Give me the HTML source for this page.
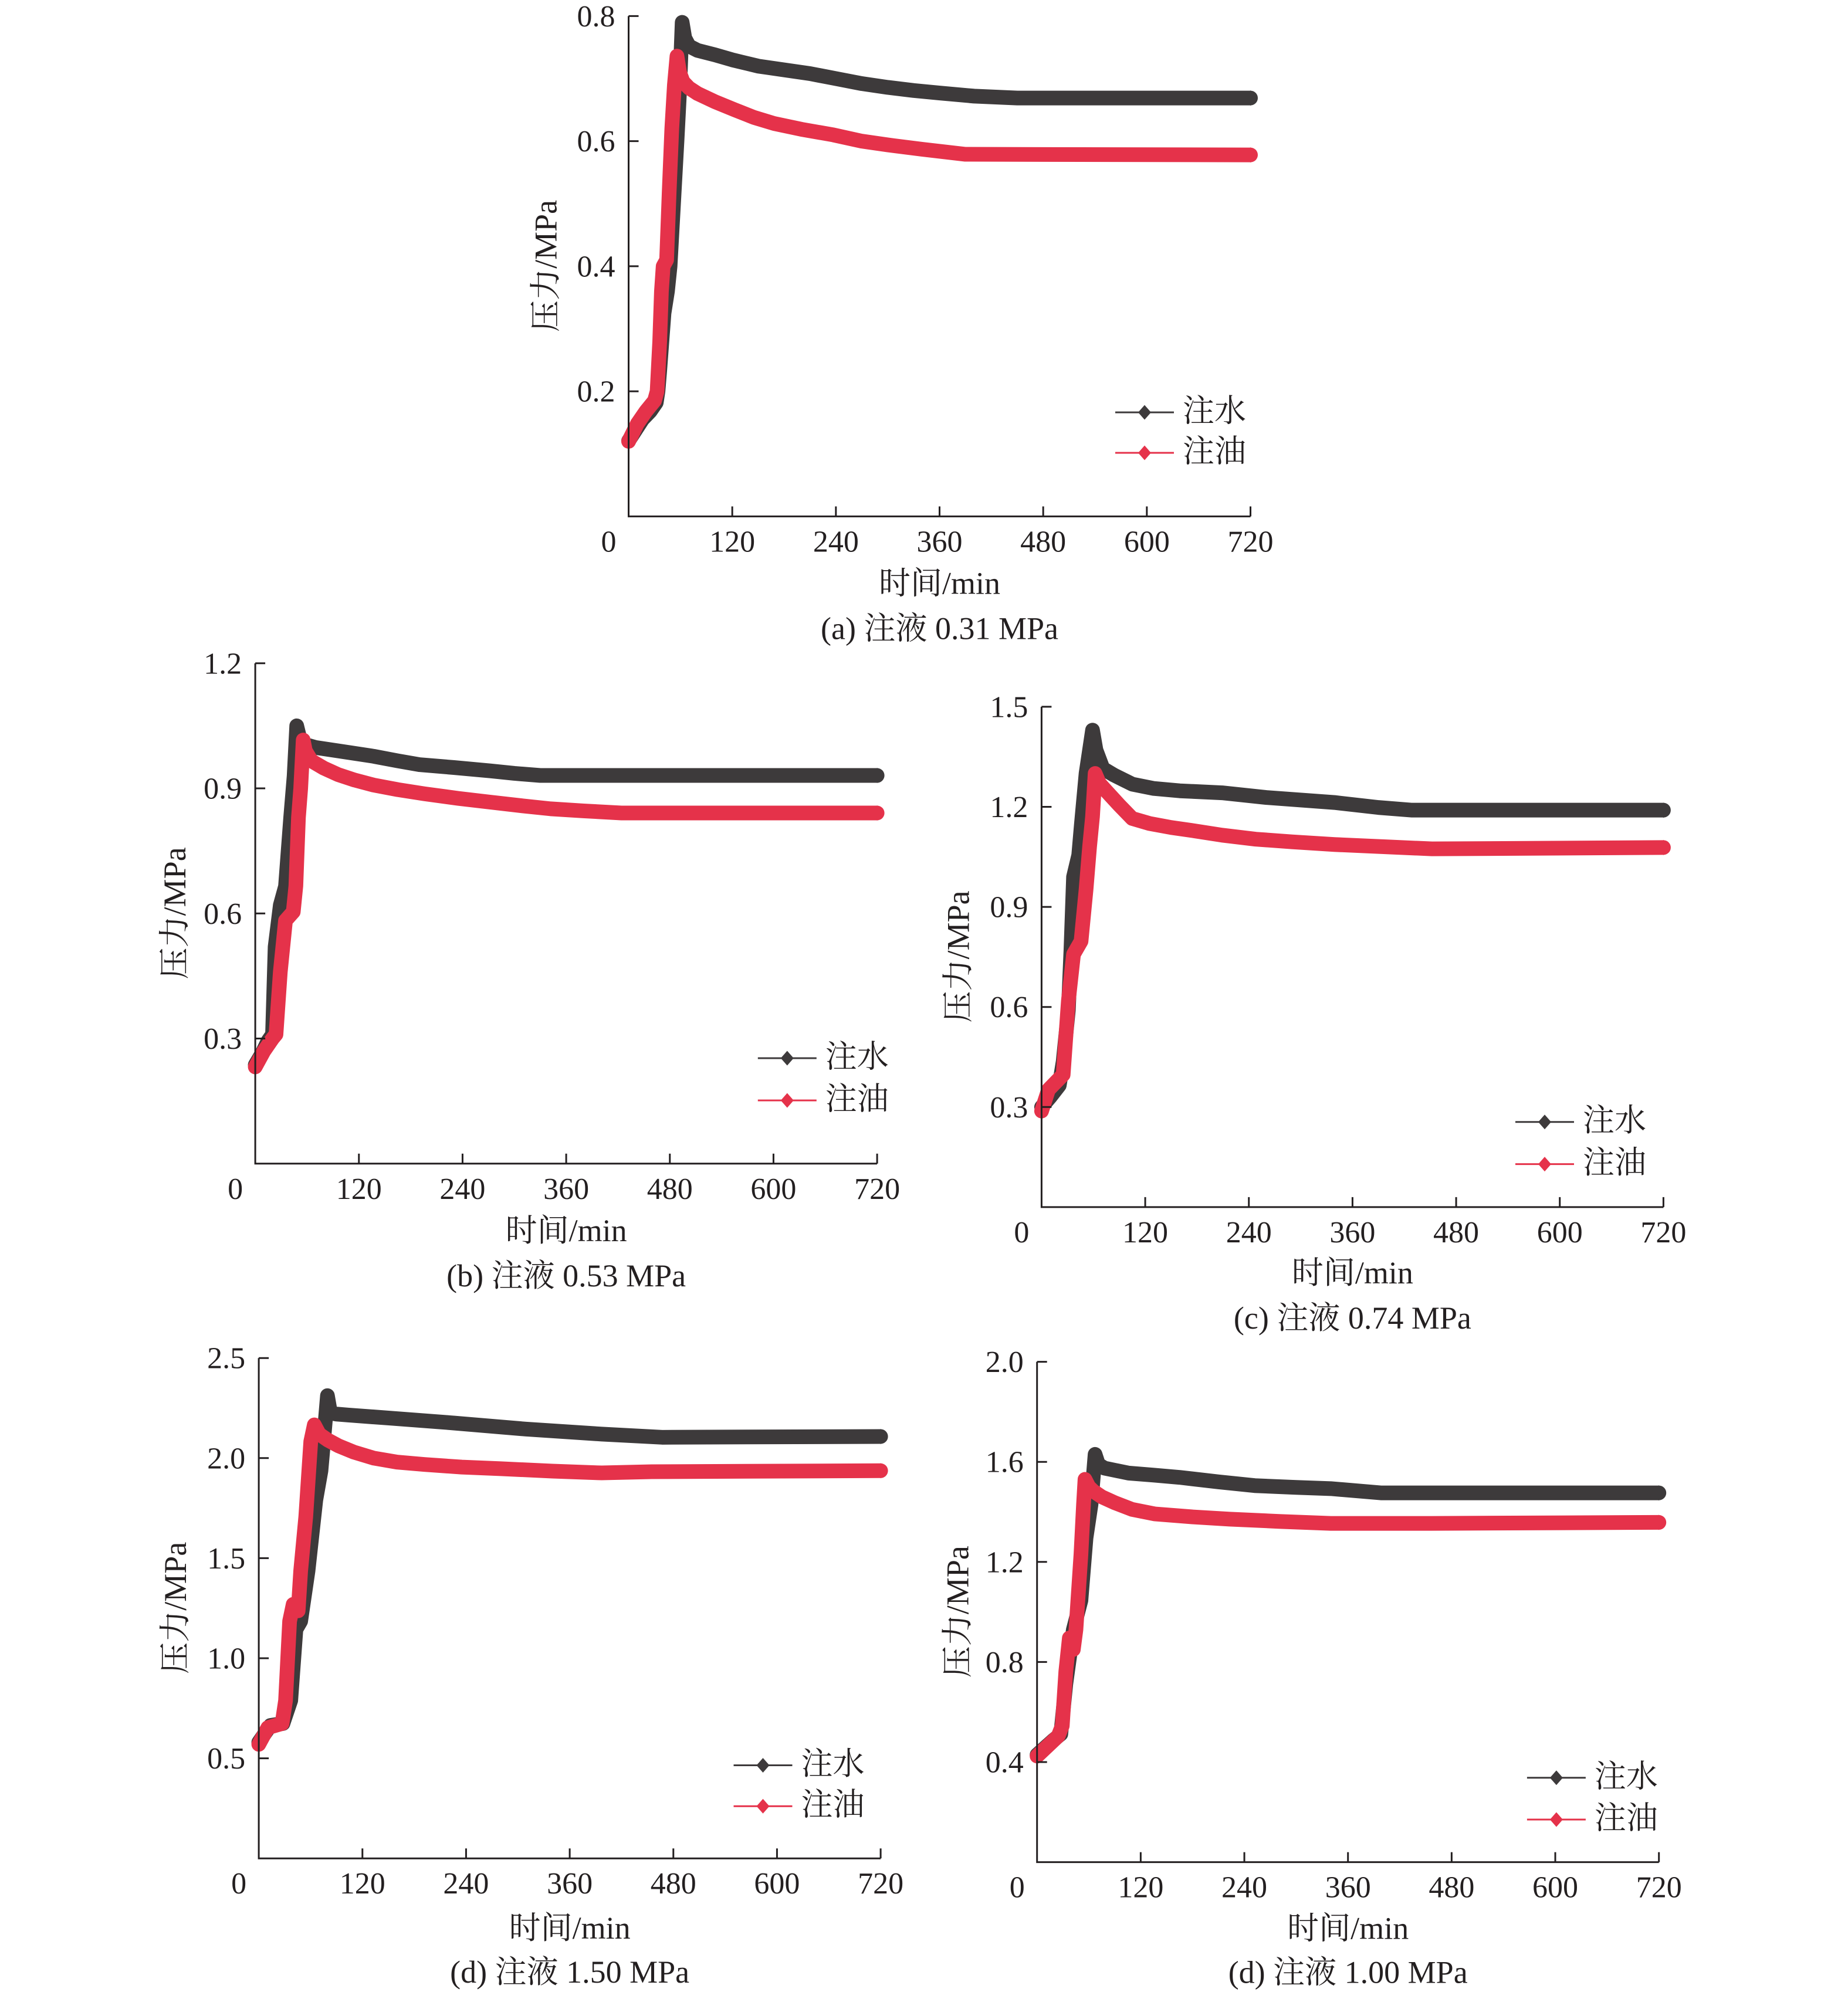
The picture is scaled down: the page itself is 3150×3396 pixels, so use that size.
<!DOCTYPE html>
<html><head><meta charset="utf-8">
<style>
html,body{margin:0;padding:0;background:#fff;}
svg{display:block;}
.ax{fill:none;stroke:#231f20;stroke-width:3;}
.tk{font-family:"Liberation Serif","Noto Serif CJK SC",serif;font-size:52px;fill:#231f20;}
.lb{font-family:"Liberation Serif","Noto Serif CJK SC",serif;font-size:54px;fill:#231f20;}
.sb{fill:none;stroke:#3d3a3b;stroke-width:25;stroke-linejoin:round;stroke-linecap:round;}
.sr{fill:none;stroke:#e5324a;stroke-width:25;stroke-linejoin:round;stroke-linecap:round;}
</style></head>
<body>
<svg width="3150" height="3396" viewBox="0 0 3150 3396" xmlns="http://www.w3.org/2000/svg">
<rect width="3150" height="3396" fill="#fff"/>

<!-- ============ Chart A ============ -->
<g transform="translate(1071.5,880.4)">
  <g transform="scale(1.472222,-1066.25)">
    <polyline class="sb" vector-effect="non-scaling-stroke" points="0,0.121 8,0.138 16,0.155 25,0.168 32,0.182 34,0.20 36,0.233 41,0.325 45,0.36 48,0.40 52,0.50 56,0.60 59,0.68 62,0.79 65,0.765 70,0.752 80,0.745 100,0.738 120,0.73 150,0.72 180,0.714 210,0.708 240,0.70 270,0.692 300,0.686 330,0.681 360,0.677 400,0.672 450,0.669 720,0.669"/>
    <polyline class="sr" vector-effect="non-scaling-stroke" points="0,0.12 10,0.148 20,0.168 30,0.185 33,0.20 36,0.28 38,0.36 40,0.40 44,0.41 47,0.52 50,0.62 53,0.69 56,0.736 59,0.71 63,0.695 70,0.685 80,0.676 100,0.663 123,0.650 145,0.638 169,0.628 200,0.619 237,0.610 270,0.600 300,0.594 340,0.587 390,0.579 720,0.578"/>
  </g>
  <polygon points="1060,-726.3 1072,-713.3 1060,-700.3 1048,-713.3" fill="#3d3a3b"/>
  <polygon points="1060,-629.3 1072,-616.3 1060,-603.3 1048,-616.3" fill="#e5324a"/>
  <path class="ax" d="M0,-853 V0 H1060"/>
  <path class="ax" d="M0,-853 H17 M0,-639.75 H17 M0,-426.5 H17 M0,-213.25 H17 M176.67,0 V-17 M353.33,0 V-17 M530,0 V-17 M706.67,0 V-17 M883.33,0 V-17 M1060,0 V-17"/>
  <g class="tk" text-anchor="end">
    <text x="-23" y="-835.5">0.8</text>
    <text x="-23" y="-622.25">0.6</text>
    <text x="-23" y="-409">0.4</text>
    <text x="-23" y="-195.75">0.2</text>
  </g>
  <g class="tk" text-anchor="middle">
    <text x="-34" y="60">0</text>
    <text x="176.67" y="60">120</text>
    <text x="353.33" y="60">240</text>
    <text x="530" y="60">360</text>
    <text x="706.67" y="60">480</text>
    <text x="883.33" y="60">600</text>
    <text x="1060" y="60">720</text>
  </g>
  <text class="lb" x="530" y="132" text-anchor="middle">时间/min</text>
  <text class="lb" x="530" y="209" text-anchor="middle">(a) 注液 0.31 MPa</text>
  <text class="lb" transform="translate(-142,-427) rotate(-90)" y="19" text-anchor="middle">压力/MPa</text>
  <g transform="translate(829.5,-177.4)">
    <line x1="0" y1="0" x2="100" y2="0" stroke="#3d3a3b" stroke-width="3"/>
    <polygon points="50,-12.5 61,0 50,12.5 39,0" fill="#3d3a3b"/>
    <text class="lb" x="115" y="15.5">注水</text>
  </g>
  <g transform="translate(829.5,-108.4)">
    <line x1="0" y1="0" x2="100" y2="0" stroke="#e5324a" stroke-width="3"/>
    <polygon points="50,-12.5 61,0 50,12.5 39,0" fill="#e5324a"/>
    <text class="lb" x="115" y="15.5">注油</text>
  </g>
</g>

<!-- ============ Chart B ============ -->
<g transform="translate(435.1,1983.8)">
  <g transform="scale(1.472222,-710.833)">
    <polyline class="sb" vector-effect="non-scaling-stroke" points="0,0.237 8,0.265 15,0.295 20,0.31 23,0.52 29,0.62 35,0.665 41,0.83 45,0.93 48,1.05 52,1.016 58,1.005 70,0.998 96,0.99 137,0.977 165,0.966 190,0.957 230,0.95 272,0.942 300,0.936 330,0.931 720,0.931"/>
    <polyline class="sr" vector-effect="non-scaling-stroke" points="0,0.232 10,0.27 20,0.30 24,0.31 29,0.46 35,0.583 44,0.604 47,0.666 50,0.83 52.6,0.90 55.5,1.016 58,0.99 65,0.966 79,0.949 96,0.933 115,0.92 137,0.908 165,0.897 196,0.887 235,0.876 272,0.867 310,0.858 342,0.851 380,0.846 424,0.841 720,0.841"/>
  </g>
  <polygon points="1060,-674.8 1072,-661.8 1060,-648.8 1048,-661.8" fill="#3d3a3b"/>
  <polygon points="1060,-610.8 1072,-597.8 1060,-584.8 1048,-597.8" fill="#e5324a"/>
  <path class="ax" d="M0,-853 V0 H1060"/>
  <path class="ax" d="M0,-853 H17 M0,-639.75 H17 M0,-426.5 H17 M0,-213.25 H17 M176.67,0 V-17 M353.33,0 V-17 M530,0 V-17 M706.67,0 V-17 M883.33,0 V-17 M1060,0 V-17"/>
  <g class="tk" text-anchor="end">
    <text x="-23" y="-835.5">1.2</text>
    <text x="-23" y="-622.25">0.9</text>
    <text x="-23" y="-409">0.6</text>
    <text x="-23" y="-195.75">0.3</text>
  </g>
  <g class="tk" text-anchor="middle">
    <text x="-34" y="60">0</text>
    <text x="176.67" y="60">120</text>
    <text x="353.33" y="60">240</text>
    <text x="530" y="60">360</text>
    <text x="706.67" y="60">480</text>
    <text x="883.33" y="60">600</text>
    <text x="1060" y="60">720</text>
  </g>
  <text class="lb" x="530" y="132" text-anchor="middle">时间/min</text>
  <text class="lb" x="530" y="209" text-anchor="middle">(b) 注液 0.53 MPa</text>
  <text class="lb" transform="translate(-138,-427) rotate(-90)" y="19" text-anchor="middle">压力/MPa</text>
  <g transform="translate(856.7,-179.8)">
    <line x1="0" y1="0" x2="100" y2="0" stroke="#3d3a3b" stroke-width="3"/>
    <polygon points="50,-12.5 61,0 50,12.5 39,0" fill="#3d3a3b"/>
    <text class="lb" x="115" y="15.5">注水</text>
  </g>
  <g transform="translate(856.7,-107.8)">
    <line x1="0" y1="0" x2="100" y2="0" stroke="#e5324a" stroke-width="3"/>
    <polygon points="50,-12.5 61,0 50,12.5 39,0" fill="#e5324a"/>
    <text class="lb" x="115" y="15.5">注油</text>
  </g>
</g>

<!-- ============ Chart C ============ -->
<g transform="translate(1775.4,2057.9)">
  <g transform="scale(1.472222,-568.667)">
    <polyline class="sb" vector-effect="non-scaling-stroke" points="0,0.30 10,0.33 20.5,0.365 25,0.436 31,0.59 34,0.771 37,0.99 43,1.055 46,1.145 51.5,1.30 59,1.43 63,1.37 71,1.315 84,1.295 105,1.268 130,1.255 160,1.248 209,1.242 260,1.228 339,1.213 390,1.198 429,1.19 720,1.19"/>
    <polyline class="sr" vector-effect="non-scaling-stroke" points="0,0.288 8,0.352 25,0.397 31,0.617 37,0.758 45.7,0.797 51.5,0.952 55.6,1.081 59,1.171 62,1.30 67,1.27 74,1.25 90,1.205 105,1.165 125,1.15 150,1.138 177,1.128 209,1.115 248,1.103 290,1.095 339,1.087 400,1.08 452,1.074 720,1.078"/>
  </g>
  <polygon points="1060,-689.7 1072,-676.7 1060,-663.7 1048,-676.7" fill="#3d3a3b"/>
  <polygon points="1060,-626 1072,-613 1060,-600 1048,-613" fill="#e5324a"/>
  <path class="ax" d="M0,-853 V0 H1060"/>
  <path class="ax" d="M0,-853 H17 M0,-682.4 H17 M0,-511.8 H17 M0,-341.2 H17 M0,-170.6 H17 M176.67,0 V-17 M353.33,0 V-17 M530,0 V-17 M706.67,0 V-17 M883.33,0 V-17 M1060,0 V-17"/>
  <g class="tk" text-anchor="end">
    <text x="-23" y="-835.5">1.5</text>
    <text x="-23" y="-664.9">1.2</text>
    <text x="-23" y="-494.3">0.9</text>
    <text x="-23" y="-323.7">0.6</text>
    <text x="-23" y="-153.1">0.3</text>
  </g>
  <g class="tk" text-anchor="middle">
    <text x="-34" y="60">0</text>
    <text x="176.67" y="60">120</text>
    <text x="353.33" y="60">240</text>
    <text x="530" y="60">360</text>
    <text x="706.67" y="60">480</text>
    <text x="883.33" y="60">600</text>
    <text x="1060" y="60">720</text>
  </g>
  <text class="lb" x="530" y="130" text-anchor="middle">时间/min</text>
  <text class="lb" x="530" y="207" text-anchor="middle">(c) 注液 0.74 MPa</text>
  <text class="lb" transform="translate(-143,-427) rotate(-90)" y="19" text-anchor="middle">压力/MPa</text>
  <g transform="translate(807.6,-145.2)">
    <line x1="0" y1="0" x2="100" y2="0" stroke="#3d3a3b" stroke-width="3"/>
    <polygon points="50,-12.5 61,0 50,12.5 39,0" fill="#3d3a3b"/>
    <text class="lb" x="115" y="15.5">注水</text>
  </g>
  <g transform="translate(807.6,-73.3)">
    <line x1="0" y1="0" x2="100" y2="0" stroke="#e5324a" stroke-width="3"/>
    <polygon points="50,-12.5 61,0 50,12.5 39,0" fill="#e5324a"/>
    <text class="lb" x="115" y="15.5">注油</text>
  </g>
</g>

<!-- ============ Chart D left ============ -->
<g transform="translate(441.1,3168.2)">
  <g transform="scale(1.472222,-341.2)">
    <polyline class="sb" vector-effect="non-scaling-stroke" points="0,0.58 13.5,0.664 28,0.674 37,0.789 43,1.144 48.5,1.185 57,1.436 66,1.79 72,1.937 75,2.083 79.5,2.312 83,2.225 90,2.22 104,2.215 151,2.2 221,2.177 309,2.145 397,2.12 467,2.104 720,2.108"/>
    <polyline class="sr" vector-effect="non-scaling-stroke" points="0,0.57 10.5,0.653 27,0.674 31,0.789 35.7,1.185 39.8,1.269 45.6,1.237 48.5,1.436 54.4,1.707 60.2,2.083 64.3,2.166 70,2.12 80,2.09 92,2.062 110,2.03 133,2.0 160,1.98 192,1.968 235,1.955 280,1.947 340,1.935 397,1.926 455,1.932 720,1.937"/>
  </g>
  <polygon points="1060,-732.2 1072,-719.2 1060,-706.2 1048,-719.2" fill="#3d3a3b"/>
  <polygon points="1060,-673.9 1072,-660.9 1060,-647.9 1048,-660.9" fill="#e5324a"/>
  <path class="ax" d="M0,-853 V0 H1060"/>
  <path class="ax" d="M0,-853 H17 M0,-682.4 H17 M0,-511.8 H17 M0,-341.2 H17 M0,-170.6 H17 M176.67,0 V-17 M353.33,0 V-17 M530,0 V-17 M706.67,0 V-17 M883.33,0 V-17 M1060,0 V-17"/>
  <g class="tk" text-anchor="end">
    <text x="-23" y="-835.5">2.5</text>
    <text x="-23" y="-664.9">2.0</text>
    <text x="-23" y="-494.3">1.5</text>
    <text x="-23" y="-323.7">1.0</text>
    <text x="-23" y="-153.1">0.5</text>
  </g>
  <g class="tk" text-anchor="middle">
    <text x="-34" y="60">0</text>
    <text x="176.67" y="60">120</text>
    <text x="353.33" y="60">240</text>
    <text x="530" y="60">360</text>
    <text x="706.67" y="60">480</text>
    <text x="883.33" y="60">600</text>
    <text x="1060" y="60">720</text>
  </g>
  <text class="lb" x="530" y="137" text-anchor="middle">时间/min</text>
  <text class="lb" x="530" y="212" text-anchor="middle">(d) 注液 1.50 MPa</text>
  <text class="lb" transform="translate(-143,-427) rotate(-90)" y="19" text-anchor="middle">压力/MPa</text>
  <g transform="translate(809.4,-158.7)">
    <line x1="0" y1="0" x2="100" y2="0" stroke="#3d3a3b" stroke-width="3"/>
    <polygon points="50,-12.5 61,0 50,12.5 39,0" fill="#3d3a3b"/>
    <text class="lb" x="115" y="15.5">注水</text>
  </g>
  <g transform="translate(809.4,-89)">
    <line x1="0" y1="0" x2="100" y2="0" stroke="#e5324a" stroke-width="3"/>
    <polygon points="50,-12.5 61,0 50,12.5 39,0" fill="#e5324a"/>
    <text class="lb" x="115" y="15.5">注油</text>
  </g>
</g>

<!-- ============ Chart D right ============ -->
<g transform="translate(1767.7,3174.6)">
  <g transform="scale(1.472222,-426.5)">
    <polyline class="sb" vector-effect="non-scaling-stroke" points="0,0.429 18.7,0.487 27.5,0.512 33.3,0.712 42,0.929 50.8,1.046 56.7,1.296 62.5,1.43 67.2,1.63 71,1.59 78,1.575 106,1.555 135,1.547 165,1.538 210,1.52 252,1.505 300,1.498 340,1.493 398,1.476 720,1.476"/>
    <polyline class="sr" vector-effect="non-scaling-stroke" points="0,0.424 24.5,0.504 29.2,0.545 33.3,0.762 37.4,0.896 42,0.85 45,0.929 50.8,1.229 53.8,1.43 55.5,1.53 60,1.5 65.5,1.482 75,1.46 89,1.438 110,1.41 136,1.392 180,1.38 223,1.371 280,1.362 340,1.354 457,1.354 720,1.358"/>
  </g>
  <polygon points="1060,-642.5 1072,-629.5 1060,-616.5 1048,-629.5" fill="#3d3a3b"/>
  <polygon points="1060,-592.2 1072,-579.2 1060,-566.2 1048,-579.2" fill="#e5324a"/>
  <path class="ax" d="M0,-853 V0 H1060"/>
  <path class="ax" d="M0,-853 H17 M0,-682.4 H17 M0,-511.8 H17 M0,-341.2 H17 M0,-170.6 H17 M176.67,0 V-17 M353.33,0 V-17 M530,0 V-17 M706.67,0 V-17 M883.33,0 V-17 M1060,0 V-17"/>
  <g class="tk" text-anchor="end">
    <text x="-23" y="-835.5">2.0</text>
    <text x="-23" y="-664.9">1.6</text>
    <text x="-23" y="-494.3">1.2</text>
    <text x="-23" y="-323.7">0.8</text>
    <text x="-23" y="-153.1">0.4</text>
  </g>
  <g class="tk" text-anchor="middle">
    <text x="-34" y="60">0</text>
    <text x="176.67" y="60">120</text>
    <text x="353.33" y="60">240</text>
    <text x="530" y="60">360</text>
    <text x="706.67" y="60">480</text>
    <text x="883.33" y="60">600</text>
    <text x="1060" y="60">720</text>
  </g>
  <text class="lb" x="530" y="131" text-anchor="middle">时间/min</text>
  <text class="lb" x="530" y="206" text-anchor="middle">(d) 注液 1.00 MPa</text>
  <text class="lb" transform="translate(-136,-427) rotate(-90)" y="19" text-anchor="middle">压力/MPa</text>
  <g transform="translate(835.2,-143.8)">
    <line x1="0" y1="0" x2="100" y2="0" stroke="#3d3a3b" stroke-width="3"/>
    <polygon points="50,-12.5 61,0 50,12.5 39,0" fill="#3d3a3b"/>
    <text class="lb" x="115" y="15.5">注水</text>
  </g>
  <g transform="translate(835.2,-72.6)">
    <line x1="0" y1="0" x2="100" y2="0" stroke="#e5324a" stroke-width="3"/>
    <polygon points="50,-12.5 61,0 50,12.5 39,0" fill="#e5324a"/>
    <text class="lb" x="115" y="15.5">注油</text>
  </g>
</g>

</svg>
</body></html>
